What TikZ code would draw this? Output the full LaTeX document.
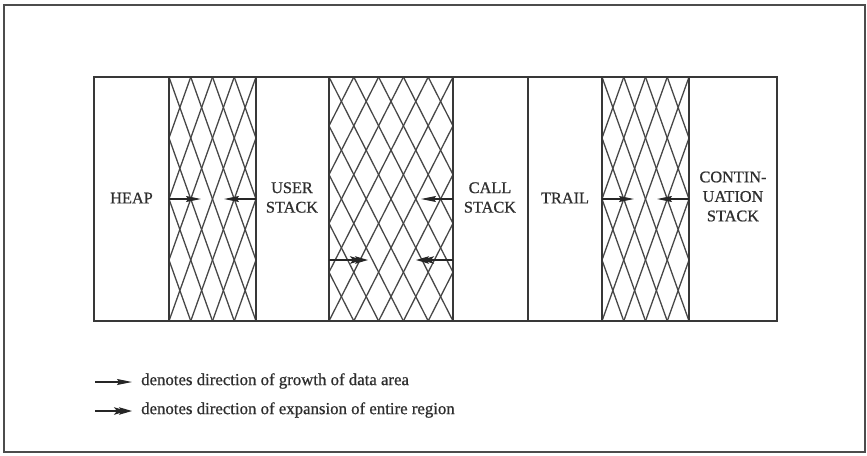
\documentclass[tikz,border=0pt]{standalone}
\usepackage{fontspec}
\setmainfont{Liberation Serif}
\usetikzlibrary{arrows.meta}
\newcommand\scanfont[1]{\fontsize{#1}{19.5}\selectfont\addfontfeature{FakeBold=0.8}}
\begin{document}
\begin{tikzpicture}[x=1pt,y=-1pt,
  outerframe/.style={draw=black!70, line width=2pt},
  cellline/.style={draw=black!78, line width=1.4pt},
  hatchline/.style={draw=black!72, line width=1.3pt},
  lbl/.style={font=\scanfont{16.3}, align=center, text=black!82, inner sep=0pt},
  legendtext/.style={font=\scanfont{16.8}, text=black!82, inner sep=0pt, anchor=west},
  growarrow/.style={draw=black!85, line width=1.1pt, -{Stealth[length=15pt,width=6pt,inset=2pt]}},
  expandarrow/.style={draw=black!85, line width=1.5pt,
    -{Stealth[length=13pt,width=7.5pt,inset=3pt,sep=-8pt]Stealth[length=13pt,width=7.5pt,inset=3pt]}},
]
\useasboundingbox (0,0) rectangle (867,455);
\draw[outerframe] (4,5) rectangle (865,452);

% cross-hatched free areas between the regions
\begin{scope}
  \clip (169,77) rectangle (256,321);
  \foreach \k in {-4,...,8} {
    \draw[hatchline] ({169+\k*21.75},77) -- ({169+\k*21.75+87},321);
    \draw[hatchline] ({169+\k*21.75},77) -- ({169+\k*21.75-87},321);
  }
\end{scope}
\begin{scope}
  \clip (329,77) rectangle (453,321);
  \foreach \k in {-5,...,10} {
    \draw[hatchline] ({329+\k*24.8},77) -- ({329+\k*24.8+124},321);
    \draw[hatchline] ({329+\k*24.8},77) -- ({329+\k*24.8-124},321);
  }
\end{scope}
\begin{scope}
  \clip (602,77) rectangle (689,321);
  \foreach \k in {-4,...,8} {
    \draw[hatchline] ({602+\k*21.75},77) -- ({602+\k*21.75+87},321);
    \draw[hatchline] ({602+\k*21.75},77) -- ({602+\k*21.75-87},321);
  }
\end{scope}

% memory layout outline and region borders
\draw[cellline] (94,77) rectangle (777,321);
\foreach \x in {169,256,329,453,528,602,689}
  \draw[cellline] (\x,77) -- (\x,321);

% region labels
\node[lbl] (heap)  at (131.5,198) {HEAP};
\node[lbl] (user)  at (292,197.5) {USER\\STACK};
\node[lbl] (call)  at (490,197.5) {CALL\\STACK};
\node[lbl] (trail) at (565,198) {TRAIL};
\node[lbl] (cont)  at (733,196.5) {CONTIN-\\UATION\\STACK};

% growth directions of the data areas
\coordinate (h0) at (169,199); \coordinate (h1) at (201,199);
\coordinate (u0) at (256,199); \coordinate (u1) at (224,199);
\coordinate (c0) at (453,199); \coordinate (c1) at (421,199);
\coordinate (t0) at (602,199); \coordinate (t1) at (634,199);
\coordinate (k0) at (689,199); \coordinate (k1) at (657,199);
\draw[growarrow] (h0) -- (h1);
\draw[growarrow] (u0) -- (u1);
\draw[growarrow] (c0) -- (c1);
\draw[growarrow] (t0) -- (t1);
\draw[growarrow] (k0) -- (k1);

% expansion of the whole region
\coordinate (e0) at (329,260); \coordinate (e1) at (368,260);
\coordinate (f0) at (453,260); \coordinate (f1) at (416,260);
\draw[expandarrow] (e0) -- (e1);
\draw[expandarrow] (f0) -- (f1);

% legend
\coordinate (lg0) at (95,382); \coordinate (lg1) at (132,382);
\coordinate (le0) at (95,411); \coordinate (le1) at (132,411);
\draw[growarrow] (lg0) -- (lg1);
\draw[expandarrow] (le0) -- (le1);
\node[legendtext] (lgt) at (141,381) {denotes direction of growth of data area};
\node[legendtext] (let) at (141,410) {denotes direction of expansion of entire region};
\end{tikzpicture}
\end{document}
